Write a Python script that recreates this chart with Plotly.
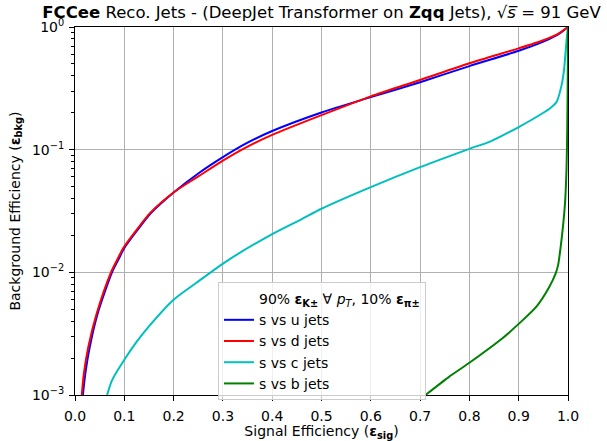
import plotly.graph_objects as go

# ROC curves: signal efficiency vs background efficiency
u_eff_sig = [0.016, 0.021, 0.03, 0.046, 0.075, 0.088, 0.1, 0.127, 0.154, 0.2, 0.25, 0.3, 0.35, 0.4,
             0.5, 0.6, 0.7, 0.8, 0.9, 0.95, 0.98, 1.0]
u_eff_bkg = [0.001, 0.0015, 0.00247, 0.00462, 0.0100, 0.0127, 0.0158, 0.0222, 0.0304, 0.0448, 0.064,
             0.087, 0.114, 0.142, 0.201, 0.268, 0.355, 0.48, 0.64, 0.76, 0.87, 1.0]

d_eff_sig = [0.0137, 0.018, 0.027, 0.044, 0.073, 0.0857, 0.098, 0.125, 0.152, 0.2, 0.25, 0.3, 0.35,
             0.4, 0.5, 0.6, 0.7, 0.8, 0.9, 0.95, 0.98, 1.0]
d_eff_bkg = [0.001, 0.0015, 0.00247, 0.00462, 0.0100, 0.0127, 0.0158, 0.0222, 0.0304, 0.0448, 0.0605,
             0.0815, 0.106, 0.132, 0.191, 0.272, 0.37, 0.506, 0.67, 0.78, 0.88, 1.0]

c_eff_sig = [0.065, 0.0755, 0.1, 0.123, 0.15, 0.2, 0.2455, 0.307, 0.4, 0.46, 0.5, 0.6, 0.7, 0.8,
             0.843, 0.9, 0.95, 0.965, 0.977, 0.987, 0.992, 0.995, 0.998, 1.0]
c_eff_bkg = [0.001, 0.00133, 0.00194, 0.00265, 0.00363, 0.00598, 0.00818, 0.0123, 0.0205, 0.0272,
             0.033, 0.0495, 0.072, 0.1016, 0.117, 0.153, 0.20, 0.22, 0.246, 0.336, 0.45, 0.62,
             0.85, 1.0]

b_eff_sig = [0.711, 0.758, 0.8, 0.867, 0.9, 0.935, 0.962, 0.975, 0.98, 0.985, 0.99, 0.994, 0.997,
             0.9985, 0.9995, 1.0]
b_eff_bkg = [0.001, 0.0014, 0.00183, 0.0029, 0.0038, 0.0052, 0.0076, 0.0098, 0.0115, 0.016, 0.024,
             0.037, 0.07, 0.15, 0.4, 1.0]

series = [
    ("s vs u jets", u_eff_sig, u_eff_bkg, "#0000ff"),
    ("s vs d jets", d_eff_sig, d_eff_bkg, "#ff0000"),
    ("s vs c jets", c_eff_sig, c_eff_bkg, "#00bfbf"),
    ("s vs b jets", b_eff_sig, b_eff_bkg, "#008000"),
]

x_ticks = [i / 10 for i in range(11)]
x_ticktext = [f"{v:.1f}" for v in x_ticks]
y_ticks = [1e-3, 1e-2, 1e-1, 1.0]
y_ticktext = ["10<sup>−3</sup>", "10<sup>−2</sup>", "10<sup>−1</sup>", "10<sup>0</sup>"]
y_minor = [k * 10.0 ** e for e in (-3, -2, -1) for k in range(2, 10)]

FONT = "DejaVu Sans"

legend_header = ("90% <b>ε</b><sub><b>K±</b></sub> ∀ <i>p</i><sub><i>T</i></sub>, "
                 "10% <b>ε</b><sub><b>π±</b></sub>")

fig = go.Figure()
# header row of the legend (no visible line)
fig.add_trace(go.Scatter(x=[None], y=[None], mode="lines", name=legend_header,
                         line=dict(color="rgba(0,0,0,0)", width=0), hoverinfo="skip"))
for name, xs, ys, color in series:
    fig.add_trace(go.Scatter(x=xs, y=ys, mode="lines", name=name,
                             line=dict(color=color, width=2, shape="spline", smoothing=0.7)))

fig.update_layout(
    width=607, height=441,
    margin=dict(l=75, r=39, t=27, b=46, autoexpand=False),
    paper_bgcolor="white", plot_bgcolor="white",
    font=dict(family=FONT, size=14, color="black"),
    title=dict(
        text="<b>FCCee</b> Reco. Jets - (DeepJet Transformer on <b>Zqq</b> Jets), √<i>s̅</i> = 91 GeV",
        xref="paper", x=0.5, xanchor="center", y=0.985, yanchor="top",
        font=dict(family=FONT, size=16.5, color="black"),
        automargin=False,
    ),
    showlegend=True,
    legend=dict(
        x=0.29, y=0.307, xanchor="left", yanchor="top",
        bgcolor="rgba(255,255,255,0.8)", bordercolor="#cccccc", borderwidth=1,
        font=dict(family=FONT, size=14),
        traceorder="normal", tracegroupgap=0,
    ),
    xaxis=dict(
        range=[0, 1], tickvals=x_ticks, ticktext=x_ticktext, automargin=False,
        showgrid=True, gridcolor="#b0b0b0", gridwidth=1,
        ticks="outside", ticklen=5, tickcolor="black", ticklabelstandoff=3,
        showline=True, linecolor="black", linewidth=1, mirror=True,
        zeroline=False,
        title=dict(text="Signal Efficiency (<b>ε</b><sub><b>sig</b></sub>)", standoff=8,
                   font=dict(family=FONT, size=14)),
    ),
    yaxis=dict(
        type="log", range=[-3, 0], tickvals=y_ticks, ticktext=y_ticktext, automargin=False,
        showgrid=True, gridcolor="#b0b0b0", gridwidth=1,
        ticks="outside", ticklen=5, tickcolor="black", ticklabelstandoff=2,
        showline=True, linecolor="black", linewidth=1, mirror=True,
        zeroline=False,
        minor=dict(tickvals=y_minor, ticks="outside", ticklen=3, tickcolor="black", showgrid=False),
        title=dict(text="Background Efficiency (<b>ε</b><sub><b>bkg</b></sub>)", standoff=8,
                   font=dict(family=FONT, size=14)),
    ),
)

fig.write_html("out.html")
